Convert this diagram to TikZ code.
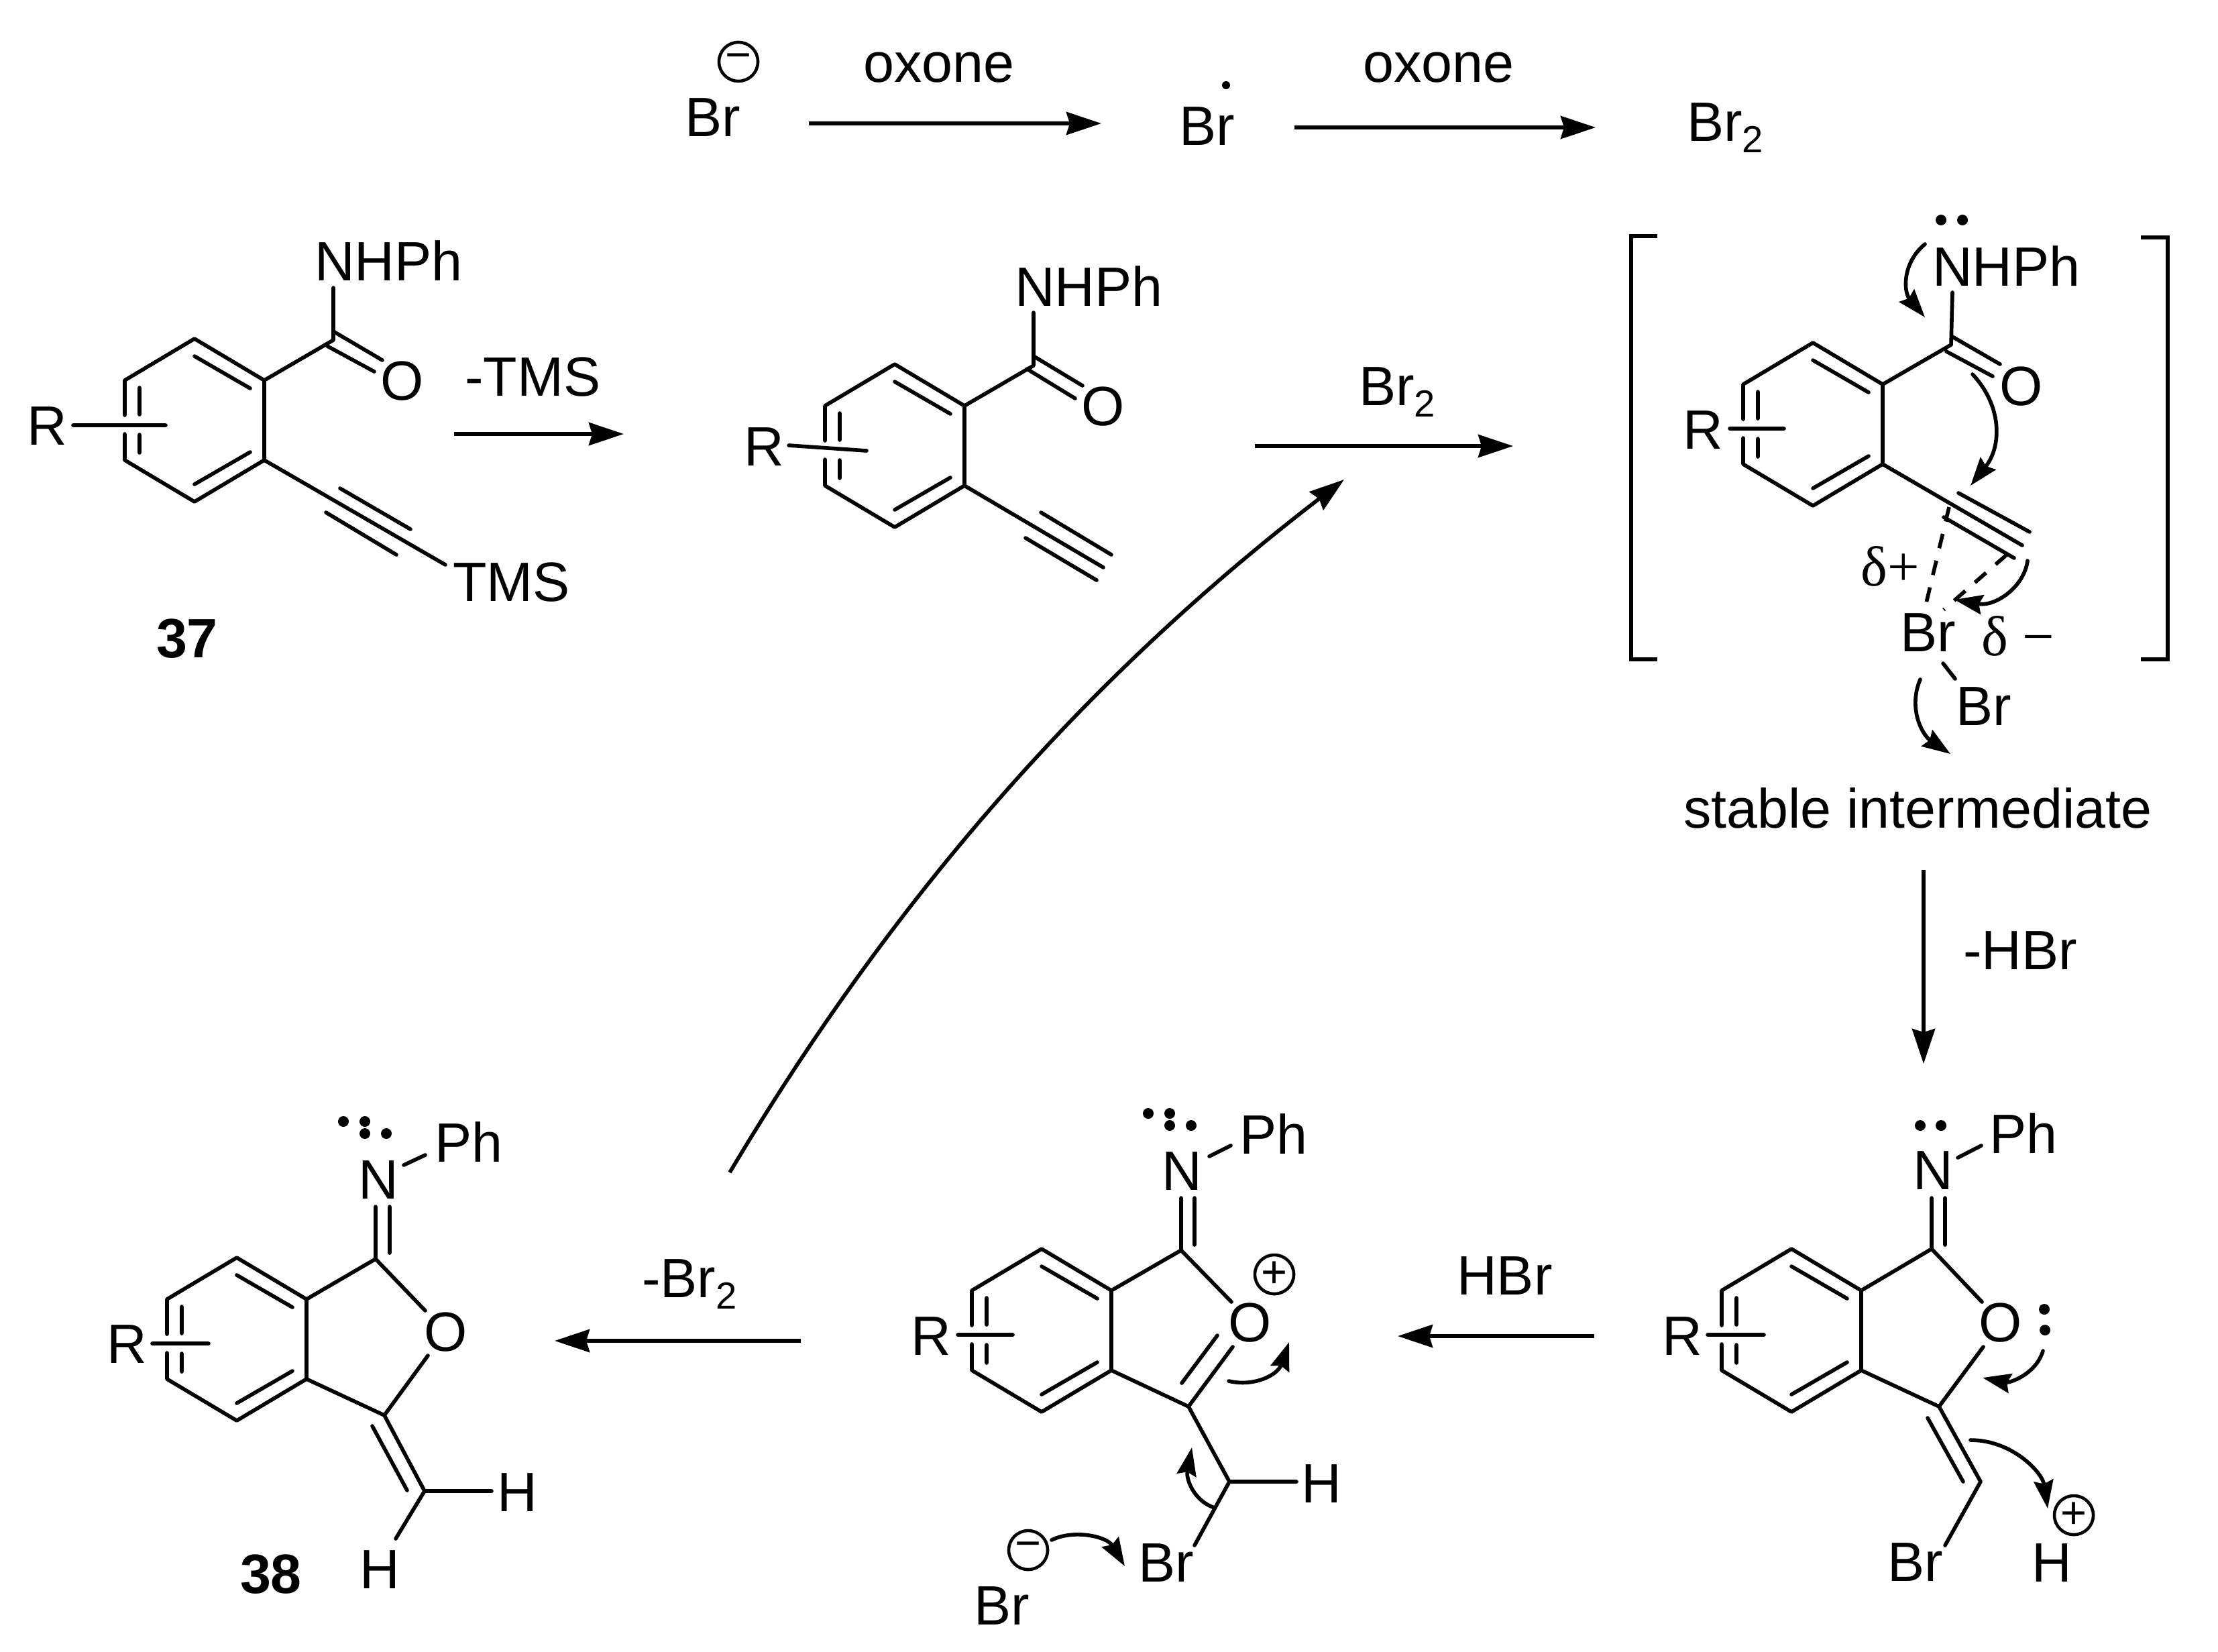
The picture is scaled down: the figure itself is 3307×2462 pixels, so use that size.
\documentclass[tikz,border=0pt]{standalone}
\usepackage{fontspec}
\usetikzlibrary{arrows.meta}
\setmainfont{Liberation Sans}
\newfontfamily\deltafont{Liberation Serif}
\newcommand{\brtwo}{Br\raisebox{-0.17cm}{\fontsize{16}{18}\selectfont 2}}
\tikzset{
	bond/.style={line width=1.6pt, line cap=round, line join=round},
	dashbond/.style={line width=1.6pt, dash pattern=on 0.22cm off 0.19cm},
	rxn/.style={line width=1.6pt, -{Stealth[length=0.52cm,width=0.34cm,inset=0.05cm]}},
	curly/.style={line width=1.6pt, line cap=round, -{Stealth[length=0.42cm,width=0.29cm,inset=0.05cm]}},
	atom/.style={inner sep=0pt, anchor=base west, xshift=-0.055cm},
	lpdot/.style={circle, fill=black, inner sep=0pt, minimum size=0.16cm},
	chg/.style={draw, circle, line width=1.3pt, inner sep=0pt, minimum size=0.58cm, font=\fontsize{19}{19}\selectfont}
}
% benzene ring hung from its top vertex, left bond open for the R bar
\newcommand{\arene}[2]{
	\begin{scope}[shift={#2}]
		\coordinate (#1a) at (0,0);
		\coordinate (#1b) at (104,62);
		\coordinate (#1c) at (104,181);
		\coordinate (#1d) at (0,243);
		\coordinate (#1e) at (-104,181);
		\coordinate (#1f) at (-104,62);
		\coordinate (#1g) at (-104,114);
		\coordinate (#1h) at (-104,142);
		\coordinate (#1i) at (0,26);
		\coordinate (#1j) at (83,74);
		\coordinate (#1k) at (0,217);
		\coordinate (#1l) at (83,169);
		\coordinate (#1m) at (-82,73);
		\coordinate (#1n) at (-82,113);
		\coordinate (#1o) at (-82,143);
		\coordinate (#1p) at (-82,170);
	\end{scope}
	\draw[bond] (#1g) -- (#1f) -- (#1a) -- (#1b) -- (#1c) -- (#1d) -- (#1e) -- (#1h)
		(#1i) -- (#1j) (#1k) -- (#1l) (#1m) -- (#1n) (#1o) -- (#1p);
}
\begin{document}
\begin{tikzpicture}[x=0.01cm, y=-0.01cm, font=\fontsize{23.5}{28}\selectfont]
	\useasboundingbox (0,0) rectangle (3307,2462);

	% top row
	\node[atom] (br1) at (1026,203) {Br};
	\node[chg] (minus1) at (1101,92) {−};
	\node[atom] (ox1) at (1292,122) {oxone};
	\node[atom] (br2) at (1763,216) {Br};
	\node[lpdot, minimum size=0.12cm] (rad) at (1828,127) {};
	\node[atom] (ox2) at (2037,122) {oxone};
	\node[atom] (br3) at (2520,210) {\brtwo};
	\coordinate (a1s) at (1206,184);
	\coordinate (a1e) at (1642,184);
	\coordinate (a2s) at (1930,190);
	\coordinate (a2e) at (2379,190);
	\draw
	(a1s) edge[rxn] (a1e)
	(a2s) edge[rxn] (a2e)
	;

	% 37
	\arene{A}{(290,505)}
	\node[atom] (rA) at (45,663) {R};
	\node[atom] (nhA) at (474,418) {NHPh};
	\node (oA) at (600,568) {O};
	\node[atom] (tms) at (680,896) {TMS};
	\node (n37) at (279,952) {\bfseries 37};
	\coordinate (barA1) at (109,634);
	\coordinate (barA2) at (247,634);
	\coordinate (cA) at (497,507);
	\coordinate (nA) at (497,429);
	\coordinate (dA1) at (497,494);
	\coordinate (dA2) at (570,537);
	\coordinate (dA3) at (488,516);
	\coordinate (dA4) at (558,554);
	\coordinate (tA1) at (664,842);
	\coordinate (tA2) at (507,728);
	\coordinate (tA3) at (612,789);
	\coordinate (tA4) at (486,764);
	\coordinate (tA5) at (591,827);
	\draw[bond]
	(barA1) -- (barA2)
	(Ab) -- (cA) -- (nA)
	(dA1) -- (dA2)
	(dA3) -- (dA4)
	(Ac) -- (tA1)
	(tA2) -- (tA3)
	(tA4) -- (tA5)
	;

	\node[atom] (tmsl) at (698,590) {-TMS};
	\coordinate (a3s) at (677,647);
	\coordinate (a3e) at (930,647);
	\draw (a3s) edge[rxn] (a3e);

	% terminal alkyne
	\arene{B}{(1334,543)}
	\node[atom] (rB) at (1114,694) {R};
	\node[atom] (nhB) at (1518,456) {NHPh};
	\node (oB) at (1645,606) {O};
	\coordinate (barB1) at (1176,664);
	\coordinate (barB2) at (1292,672);
	\coordinate (cB) at (1541,545);
	\coordinate (nB) at (1541,466);
	\coordinate (dB1) at (1541,531);
	\coordinate (dB2) at (1614,575);
	\coordinate (dB3) at (1531,550);
	\coordinate (dB4) at (1603,594);
	\coordinate (tB1) at (1645,846);
	\coordinate (tB2) at (1552,764);
	\coordinate (tB3) at (1657,827);
	\coordinate (tB4) at (1529,802);
	\coordinate (tB5) at (1635,865);
	\draw[bond]
	(barB1) -- (barB2)
	(Bb) -- (cB) -- (nB)
	(dB1) -- (dB2)
	(dB3) -- (dB4)
	(Bc) -- (tB1)
	(tB2) -- (tB3)
	(tB4) -- (tB5)
	;

	\node[atom] (brl) at (2031,604) {\brtwo};
	\coordinate (a4s) at (1871,665);
	\coordinate (a4e) at (2256,665);
	\draw (a4s) edge[rxn] (a4e);

	% bracketed intermediate
	\arene{C}{(2703,511)}
	\coordinate (bl1) at (2471,352);
	\coordinate (bl2) at (2432,352);
	\coordinate (bl3) at (2432,983);
	\coordinate (bl4) at (2471,983);
	\coordinate (br1c) at (3192,354);
	\coordinate (br2c) at (3232,354);
	\coordinate (br3c) at (3232,983);
	\coordinate (br4c) at (3192,983);
	\draw[bond, line cap=butt, line join=miter] (bl1) -- (bl2) -- (bl3) -- (bl4);
	\draw[bond, line cap=butt, line join=miter] (br1c) -- (br2c) -- (br3c) -- (br4c);
	\node[atom] (rC) at (2514,669) {R};
	\node[atom] (nhC) at (2886,426) {NHPh};
	\node[lpdot] (lpC1) at (2894,328) {};
	\node[lpdot] (lpC2) at (2926,328) {};
	\node (oC) at (3014,576) {O};
	\node[atom] (brC1) at (2838,971) {Br};
	\node[atom] (brC2) at (2921,1081) {Br};
	\node[atom, font=\deltafont\fontsize{24}{28}\selectfont] (dplus) at (2779,873) {δ+};
	\node[atom, font=\deltafont\fontsize{24}{28}\selectfont] (dminus) at (2959,977) {δ −};
	\node[atom] (stable) at (2515,1234) {stable intermediate};
	\coordinate (barC1) at (2579,639);
	\coordinate (barC2) at (2660,639);
	\coordinate (cC) at (2909,514);
	\coordinate (nC) at (2911,436);
	\coordinate (dC1) at (2911,502);
	\coordinate (dC2) at (2982,543);
	\coordinate (dC3) at (2902,524);
	\coordinate (dC4) at (2971,561);
	\coordinate (tC1) at (3015,813);
	\coordinate (tC2) at (2920,735);
	\coordinate (tC3) at (3026,793);
	\coordinate (tC4) at (2898,771);
	\coordinate (tC5) at (3003,832);
	\coordinate (hC1) at (2906,756);
	\coordinate (hC2) at (2871,903);
	\coordinate (hC3) at (2992,827);
	\coordinate (hC4) at (2898,909);
	\coordinate (bbC1) at (2897,989);
	\coordinate (bbC2) at (2915,1012);
	\draw[bond]
	(barC1) -- (barC2)
	(Cb) -- (cC)
	(cC) -- (nC)
	(dC1) -- (dC2)
	(dC3) -- (dC4)
	(Cc) -- (tC1)
	(tC2) -- (tC3)
	(tC4) -- (tC5)
	(bbC1) -- (bbC2)
	;
	\draw[dashbond] (hC1) -- (hC2) (hC3) -- (hC4);
	\coordinate (cuC1) at (2870,364);
	\coordinate (cuC2) at (2870,473);
	\coordinate (cuC3) at (2941,558);
	\coordinate (cuC4) at (2938,724);
	\coordinate (cuC5) at (3023,836);
	\coordinate (cuC6) at (2914,894);
	\coordinate (cuC7) at (2863,1013);
	\coordinate (cuC8) at (2908,1124);
	\draw[curly] (cuC1) .. controls (2836,392) and (2838,435) .. (cuC2);
	\draw[curly] (cuC3) .. controls (2985,605) and (2985,665) .. (cuC4);
	\draw[curly] (cuC5) .. controls (3018,875) and (2975,905) .. (cuC6);
	\draw[curly] (cuC7) .. controls (2845,1055) and (2865,1095) .. (cuC8);

	\node[atom] (hbrl) at (2932,1445) {-HBr};
	\coordinate (a5s) at (2868,1297);
	\coordinate (a5e) at (2868,1586);
	\draw (a5s) edge[rxn] (a5e);

	% bromovinyl isobenzofuran
	\arene{D}{(2671,1862)}
	\node[atom] (rD) at (2483,2020) {R};
	\node[atom] (nD) at (2857,1773) {N};
	\node[atom] (phD) at (2971,1719) {Ph};
	\node (oD) at (2983,1972) {O};
	\node[atom] (brD) at (2819,2357) {Br};
	\node[atom] (hD) at (3034,2358) {H};
	\node[chg] (plusD) at (3092,2259) {+};
	\node[lpdot] (lpD1) at (2863,1678) {};
	\node[lpdot] (lpD2) at (2894,1678) {};
	\node[lpdot] (lpD3) at (3048,1952) {};
	\node[lpdot] (lpD4) at (3049,1983) {};
	\coordinate (barD1) at (2546,1990);
	\coordinate (barD2) at (2630,1990);
	\coordinate (c1D) at (2880,1862);
	\coordinate (nD1) at (2880,1786);
	\coordinate (nD2) at (2900,1786);
	\coordinate (nD3) at (2900,1856);
	\coordinate (phD1) at (2919,1726);
	\coordinate (phD2) at (2954,1708);
	\coordinate (oD1) at (2955,1941);
	\coordinate (oD2) at (2957,2008);
	\coordinate (c2D) at (2891,2097);
	\coordinate (c3D) at (2953,2209);
	\coordinate (iD1) at (2874,2114);
	\coordinate (iD2) at (2927,2209);
	\coordinate (bD) at (2900,2304);
	\draw[bond]
	(barD1) -- (barD2)
	(Db) -- (c1D) -- (oD1)
	(c1D) -- (nD1)
	(nD2) -- (nD3)
	(phD1) -- (phD2)
	(Dc) -- (c2D) -- (oD2)
	(c2D) -- (c3D) -- (bD)
	(iD1) -- (iD2)
	;
	\coordinate (cuD1) at (3046,2014);
	\coordinate (cuD2) at (2956,2054);
	\coordinate (cuD3) at (2938,2147);
	\coordinate (cuD4) at (3053,2249);
	\draw[curly] (cuD1) .. controls (3035,2050) and (2995,2062) .. (cuD2);
	\draw[curly] (cuD3) .. controls (3000,2147) and (3045,2195) .. (cuD4);

	\node[atom] (hbr) at (2177,1930) {HBr};
	\coordinate (a6s) at (2377,1992);
	\coordinate (a6e) at (2084,1992);
	\draw (a6s) edge[rxn] (a6e);

	% oxonium
	\arene{E}{(1553,1862)}
	\node[atom] (rE) at (1363,2020) {R};
	\node[atom] (nE) at (1737,1774) {N};
	\node[atom] (phE) at (1853,1720) {Ph};
	\node (oE) at (1864,1972) {O};
	\node[atom] (brE) at (1702,2358) {Br};
	\node[atom] (hE) at (1945,2240) {H};
	\node[atom] (brF) at (1457,2422) {Br};
	\node[chg] (plusE) at (1900,1900) {+};
	\node[chg] (minusE) at (1533,2311) {−};
	\node[lpdot] (lpE1) at (1712,1660) {};
	\node[lpdot] (lpE2) at (1744,1660) {};
	\node[lpdot] (lpE3) at (1744,1678) {};
	\node[lpdot] (lpE4) at (1776,1678) {};
	\coordinate (barE1) at (1428,1990);
	\coordinate (barE2) at (1510,1990);
	\coordinate (c1E) at (1761,1864);
	\coordinate (nE1) at (1761,1786);
	\coordinate (nE2) at (1781,1786);
	\coordinate (nE3) at (1781,1856);
	\coordinate (phE1) at (1803,1724);
	\coordinate (phE2) at (1835,1708);
	\coordinate (oE1) at (1836,1941);
	\coordinate (oE2) at (1838,2008);
	\coordinate (c2E) at (1772,2097);
	\coordinate (iE1) at (1762,2062);
	\coordinate (iE2) at (1815,1991);
	\coordinate (c3E) at (1833,2209);
	\coordinate (hE1) at (1933,2209);
	\coordinate (bE) at (1781,2304);
	\draw[bond]
	(barE1) -- (barE2)
	(Eb) -- (c1E) -- (oE1)
	(c1E) -- (nE1)
	(nE2) -- (nE3)
	(phE1) -- (phE2)
	(Ec) -- (c2E) -- (oE2)
	(iE1) -- (iE2)
	(c2E) -- (c3E) -- (hE1)
	(c3E) -- (bE)
	;
	\coordinate (cuE1) at (1811,2248);
	\coordinate (cuE2) at (1777,2158);
	\coordinate (cuE3) at (1832,2059);
	\coordinate (cuE4) at (1922,2001);
	\coordinate (cuE5) at (1568,2296);
	\coordinate (cuE6) at (1677,2335);
	\draw[curly] (cuE1) .. controls (1780,2238) and (1768,2205) .. (cuE2);
	\draw[curly] (cuE3) .. controls (1870,2068) and (1905,2050) .. (cuE4);
	\draw[curly] (cuE5) .. controls (1600,2280) and (1650,2290) .. (cuE6);

	\node[atom] (brml) at (962,1934) {-\brtwo};
	\coordinate (a7s) at (1194,1999);
	\coordinate (a7e) at (827,1999);
	\draw (a7s) edge[rxn] (a7e);

	% 38
	\arene{F}{(353,1875)}
	\node[atom] (rF) at (164,2032) {R};
	\node[atom] (nF) at (539,1787) {N};
	\node[atom] (phF) at (653,1732) {Ph};
	\node (oF) at (665,1986) {O};
	\node[atom] (hF1) at (746,2253) {H};
	\node[atom] (hF2) at (541,2368) {H};
	\node (n38) at (404,2347) {\bfseries 38};
	\node[lpdot] (lpF1) at (512,1672) {};
	\node[lpdot] (lpF2) at (544,1672) {};
	\node[lpdot] (lpF3) at (544,1690) {};
	\node[lpdot] (lpF4) at (576,1690) {};
	\coordinate (barF1) at (227,2003);
	\coordinate (barF2) at (311,2003);
	\coordinate (c1F) at (560,1877);
	\coordinate (nF1) at (560,1799);
	\coordinate (nF2) at (581,1799);
	\coordinate (nF3) at (581,1868);
	\coordinate (phF1) at (602,1737);
	\coordinate (phF2) at (634,1722);
	\coordinate (oF1) at (634,1954);
	\coordinate (oF2) at (638,2021);
	\coordinate (c2F) at (573,2110);
	\coordinate (c3F) at (633,2223);
	\coordinate (iF1) at (555,2126);
	\coordinate (iF2) at (607,2222);
	\coordinate (hFa) at (733,2223);
	\coordinate (hFb) at (590,2294);
	\draw[bond]
	(barF1) -- (barF2)
	(Fb) -- (c1F) -- (oF1)
	(c1F) -- (nF1)
	(nF2) -- (nF3)
	(phF1) -- (phF2)
	(Fc) -- (c2F) -- (oF2)
	(c2F) -- (c3F) -- (hFa)
	(c3F) -- (hFb)
	(iF1) -- (iF2)
	;

	% cycle back to Br2
	\coordinate (cycs) at (1088,1748);
	\coordinate (cyce) at (2004,715);
	\draw[rxn] (cycs) .. controls (1350,1308) and (1645,991) .. (cyce);
\end{tikzpicture}
\end{document}
